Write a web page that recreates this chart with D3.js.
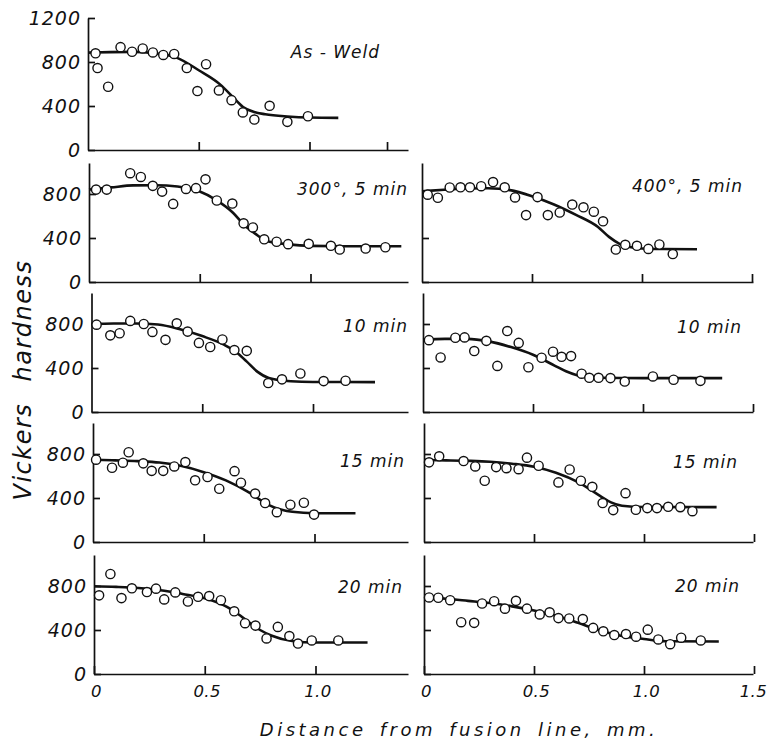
<!DOCTYPE html>
<html>
<head>
<meta charset="utf-8">
<script src="https://cdn.jsdelivr.net/npm/d3@7"></script>
<style>
  body { margin: 0; background: #fff; }
  text { font-family: "DejaVu Sans", sans-serif; font-style: oblique; fill: #111; }
</style>
</head>
<body>
<svg id="chart" width="769" height="742"></svg>
<script>
// Vickers hardness (HV) against distance from the fusion line (mm).
// Each panel: measured points [mm, HV] and the smoothed trend [mm, HV].

const asWeldPoints = [[0.034,879],[0.043,745],[0.091,575],[0.147,935],[0.199,893],[0.247,923],[0.293,887],[0.340,864],[0.389,873],[0.446,745],[0.494,536],[0.533,780],[0.591,542],[0.648,453],[0.699,342],[0.751,277],[0.820,402],[0.900,256],[0.993,307]];
const asWeldFit = [[0,885],[0.1,890],[0.2,892],[0.3,880],[0.4,840],[0.5,725],[0.6,590],[0.65,490],[0.7,390],[0.75,345],[0.8,325],[0.9,305],[1.0,295],[1.13,292]];

const t300m5Points = [[0.032,840],[0.080,840],[0.186,989],[0.234,955],[0.288,874],[0.330,822],[0.380,710],[0.438,846],[0.483,853],[0.526,933],[0.577,741],[0.647,713],[0.698,533],[0.740,496],[0.791,388],[0.847,366],[0.899,344],[0.992,347],[1.092,329],[1.132,295],[1.249,304],[1.338,316]];
const t300m5Fit = [[0,840],[0.1,860],[0.2,878],[0.3,880],[0.4,868],[0.5,822],[0.575,745],[0.65,630],[0.7,520],[0.75,440],[0.8,375],[0.9,342],[1.0,328],[1.2,325],[1.41,325]];

const t400m5Points = [[0.026,794],[0.072,766],[0.126,859],[0.175,861],[0.218,861],[0.269,871],[0.323,908],[0.376,861],[0.423,769],[0.473,608],[0.525,772],[0.572,608],[0.626,632],[0.683,704],[0.734,679],[0.781,639],[0.823,552],[0.881,295],[0.924,338],[0.977,329],[1.029,301],[1.079,341],[1.140,254]];
const t400m5Fit = [[0,825],[0.1,838],[0.2,850],[0.3,852],[0.4,835],[0.5,780],[0.6,705],[0.7,610],[0.8,500],[0.85,410],[0.9,345],[0.95,315],[1.0,305],[1.1,300],[1.25,298]];

const t300m10Points = [[0.023,794],[0.085,697],[0.127,716],[0.175,828],[0.236,800],[0.275,728],[0.334,656],[0.385,806],[0.434,731],[0.485,628],[0.536,591],[0.591,659],[0.645,563],[0.701,556],[0.798,263],[0.860,297],[0.943,350],[1.048,281],[1.147,284]];
const t300m10Fit = [[0,800],[0.1,805],[0.2,805],[0.3,795],[0.4,752],[0.5,690],[0.6,610],[0.65,550],[0.7,460],[0.75,365],[0.8,310],[0.9,280],[1.0,273],[1.28,272]];

const t400m10Points = [[0.027,653],[0.080,496],[0.147,675],[0.189,678],[0.233,554],[0.288,647],[0.338,419],[0.383,736],[0.435,628],[0.479,407],[0.539,493],[0.591,548],[0.630,502],[0.673,508],[0.721,348],[0.756,311],[0.798,311],[0.852,308],[0.917,277],[1.045,323],[1.139,293],[1.261,283]];
const t400m10Fit = [[0,656],[0.1,665],[0.2,665],[0.3,642],[0.4,590],[0.5,520],[0.6,420],[0.65,370],[0.7,335],[0.8,312],[1.0,308],[1.36,308]];

const t300m15Points = [[0.014,748],[0.086,675],[0.135,721],[0.161,816],[0.227,715],[0.265,647],[0.317,647],[0.367,687],[0.417,727],[0.461,561],[0.517,591],[0.570,484],[0.639,644],[0.668,539],[0.732,440],[0.777,354],[0.830,271],[0.891,339],[0.952,357],[0.998,249]];
const t300m15Fit = [[0,748],[0.1,742],[0.2,735],[0.3,722],[0.4,690],[0.5,635],[0.6,560],[0.7,455],[0.75,390],[0.8,330],[0.9,275],[1.0,262],[1.185,262]];

const t400m15Points = [[0.023,724],[0.069,779],[0.180,736],[0.233,687],[0.276,557],[0.328,681],[0.375,671],[0.430,662],[0.468,767],[0.521,693],[0.611,542],[0.662,659],[0.713,557],[0.765,502],[0.812,354],[0.860,290],[0.916,444],[0.963,293],[1.015,308],[1.059,308],[1.110,320],[1.165,317],[1.220,280]];
const t400m15Fit = [[0,745],[0.1,742],[0.2,738],[0.3,730],[0.4,712],[0.5,685],[0.6,630],[0.7,545],[0.8,420],[0.85,360],[0.9,330],[1.0,318],[1.33,317]];

const t300m20Points = [[0.023,715],[0.074,909],[0.124,690],[0.171,779],[0.239,745],[0.280,776],[0.317,678],[0.367,742],[0.424,659],[0.470,702],[0.520,708],[0.573,671],[0.633,570],[0.682,462],[0.729,440],[0.779,323],[0.830,428],[0.882,345],[0.921,277],[0.983,305],[1.103,305]];
const t300m20Fit = [[0,798],[0.1,792],[0.2,782],[0.3,762],[0.4,728],[0.5,688],[0.6,610],[0.65,545],[0.7,470],[0.75,400],[0.8,350],[0.9,298],[1.0,287],[1.235,286]];

const t400m20Points = [[0.023,696],[0.065,693],[0.119,671],[0.169,471],[0.228,465],[0.264,641],[0.319,662],[0.368,594],[0.418,665],[0.468,594],[0.526,542],[0.571,561],[0.611,508],[0.660,505],[0.722,499],[0.769,419],[0.815,388],[0.865,354],[0.918,363],[0.964,339],[1.017,403],[1.065,314],[1.119,271],[1.169,330],[1.258,305]];
const t400m20Fit = [[0,697],[0.1,684],[0.2,665],[0.3,645],[0.4,615],[0.5,577],[0.6,530],[0.7,465],[0.8,395],[0.9,345],[1.0,318],[1.1,298],[1.34,296]];

const panelLabels = ["As - Weld", "300°, 5 min", "400°, 5 min", "10 min", "10 min", "15 min", "15 min", "20 min", "20 min"];
const hardnessTicks = [0, 400, 800];
const hardnessTicksTop = [0, 400, 800, 1200];
const distanceTicks = [0, 0.5, 1.0, 1.5];
const yTitle = "Vickers hardness";
const xTitle = "Distance from fusion line, mm.";

// ---- layout ----
const rowBase = [150, 282, 412, 542, 674];       // baseline (HV = 0) of each row
const colOrigin = [[88, 89, 91.5, 93, 94],        // x of 0 mm, left column per row
                   [422, 422, 423, 424, 424]];    // right column
const colEnd = [408, 753];                        // right end of each x axis
const pxPerMm = [221.5, 220];
const pxPerHV = 0.11;
const axisHeight = 119;                           // y-axis length for rows 1..4

const panels = [
  {row: 0, col: 0, pts: asWeldPoints, fit: asWeldFit, label: panelLabels[0], lx: 380, ly: -92},
  {row: 1, col: 0, pts: t300m5Points, fit: t300m5Fit, label: panelLabels[1], lx: 408, ly: -87},
  {row: 1, col: 1, pts: t400m5Points, fit: t400m5Fit, label: panelLabels[2], lx: 743, ly: -90},
  {row: 2, col: 0, pts: t300m10Points, fit: t300m10Fit, label: panelLabels[3], lx: 408, ly: -80},
  {row: 2, col: 1, pts: t400m10Points, fit: t400m10Fit, label: panelLabels[4], lx: 742, ly: -79},
  {row: 3, col: 0, pts: t300m15Points, fit: t300m15Fit, label: panelLabels[5], lx: 405, ly: -75},
  {row: 3, col: 1, pts: t400m15Points, fit: t400m15Fit, label: panelLabels[6], lx: 738, ly: -74},
  {row: 4, col: 0, pts: t300m20Points, fit: t300m20Fit, label: panelLabels[7], lx: 403, ly: -81},
  {row: 4, col: 1, pts: t400m20Points, fit: t400m20Fit, label: panelLabels[8], lx: 740, ly: -82}
];

const svg = d3.select("#chart");
const fmt = d => d === 0 ? "0" : d3.format(".1f")(d);

panels.forEach(p => {
  const base = rowBase[p.row];
  const x0 = colOrigin[p.col][p.row];
  const xMax = (colEnd[p.col] - x0) / pxPerMm[p.col];
  const x = d3.scaleLinear().domain([0, xMax]).range([x0, colEnd[p.col]]);
  const yTop = p.row === 0 ? 1200 : axisHeight / pxPerHV;
  const y = d3.scaleLinear().domain([0, yTop]).range([base, base - yTop * pxPerHV]);

  const g = svg.append("g");
  const bottomRow = p.row === 4;

  // x axis: ticks point up into the panel
  let xTicks = p.col === 0 ? [0.5, 1.0] : [0.5, 1.0, 1.5];
  if (p.row === 0) xTicks = [0.5, 1.0, 1.35];
  if (bottomRow) xTicks = p.col === 0 ? distanceTicks.slice(0, 3) : distanceTicks;
  const xAxis = d3.axisBottom(x).tickValues(xTicks).tickSizeInner(-8).tickSizeOuter(0)
    .tickPadding(11).tickFormat(bottomRow ? fmt : () => "");
  const gx = g.append("g").attr("transform", `translate(0,${base})`).call(xAxis);
  gx.selectAll("path, line").attr("stroke", "#111").attr("stroke-width", 1.7);
  gx.selectAll("text").attr("font-size", 16.5).attr("letter-spacing", 0.5)
    .attr("font-family", "DejaVu Sans").attr("font-style", "oblique").attr("fill", "#111")
    .attr("dx", d => d === 1.5 ? -1 : 2);

  // y axis: ticks point right into the panel
  const yTicks = p.row === 0 ? hardnessTicksTop : hardnessTicks;
  const yAxis = d3.axisLeft(y).tickValues(yTicks).tickSizeInner(-7).tickSizeOuter(0)
    .tickPadding(7).tickFormat(p.col === 0 ? d3.format("d") : () => "");
  const gy = g.append("g").attr("transform", `translate(${x0},0)`).call(yAxis);
  gy.selectAll("path, line").attr("stroke", "#111").attr("stroke-width", 1.7);
  gy.selectAll("text").attr("font-size", 19).attr("letter-spacing", 1)
    .attr("font-family", "DejaVu Sans").attr("font-style", "oblique").attr("fill", "#111");
  svg.selectAll(".domain").attr("fill", "none");

  // trend line
  const line = d3.line().x(d => x(d[0])).y(d => y(d[1])).curve(d3.curveMonotoneX);
  g.append("path").datum(p.fit).attr("d", line)
    .attr("fill", "none").attr("stroke", "#111").attr("stroke-width", 2.6);

  // measured points
  g.selectAll("circle").data(p.pts).join("circle")
    .attr("cx", d => x(d[0])).attr("cy", d => y(d[1])).attr("r", 4.6)
    .attr("fill", "#fff").attr("stroke", "#111").attr("stroke-width", 1.4);

  // panel caption
  g.append("text").attr("x", p.lx).attr("y", base + p.ly)
    .attr("text-anchor", "end").attr("font-size", 17).attr("letter-spacing", 1)
    .text(p.label);
});

// axis titles
svg.append("text")
  .attr("transform", "translate(31,380) rotate(-90)")
  .attr("text-anchor", "middle").attr("font-size", 24)
  .attr("letter-spacing", 1.5).attr("word-spacing", 12)
  .text(yTitle);

svg.append("text")
  .attr("x", 459).attr("y", 736)
  .attr("text-anchor", "middle").attr("font-size", 18)
  .attr("letter-spacing", 3.5).attr("word-spacing", 4)
  .text(xTitle);
</script>
</body>
</html>
